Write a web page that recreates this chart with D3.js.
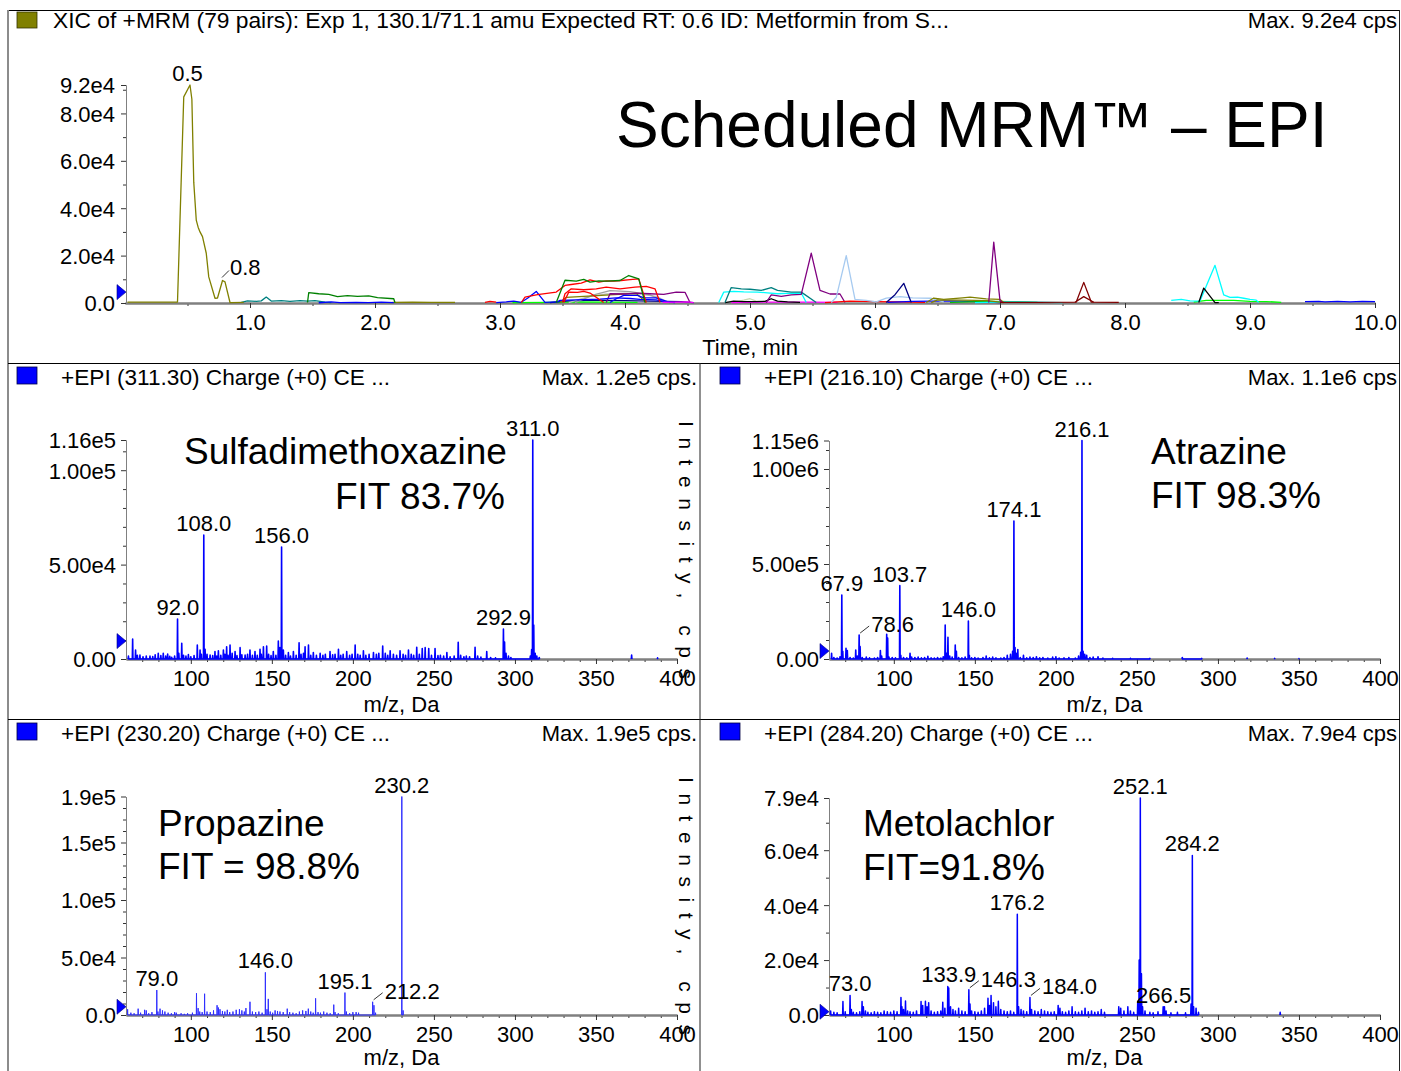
<!DOCTYPE html>
<html><head><meta charset="utf-8">
<script src="https://cdn.jsdelivr.net/npm/d3@7"></script>
<style>
body{margin:0;background:#fff}
svg{display:block}
text{font-family:"Liberation Sans",Arial,sans-serif;fill:#000}
</style>
</head><body>
<svg id="c" width="1401" height="1071"></svg>
<script>
// ---------------- DATA ----------------
// Chromatogram (XIC) traces: [time min, intensity cps]
const metformin = [[0.02,400],[0.42,400],[0.47,87000],[0.52,92000],[0.535,86000],[0.55,51000],[0.57,35000],[0.585,32000],[0.6,30000],[0.62,28000],[0.65,21000],[0.67,11000],[0.72,2000],[0.74,2100],[0.78,9500],[0.80,8900],[0.84,200],[0.95,300]];
const oliveLate = [[2.14,300],[2.3,400],[2.45,300],[2.64,300]];
const teal1 = [[0.93,300],[0.98,900],[1.05,700],[1.09,900],[1.13,2500],[1.17,800],[1.25,1000],[1.32,700],[1.4,1000],[1.46,800],[1.52,1000],[1.6,400],[1.65,200]];
const green1 = [[1.46,200],[1.47,4400],[1.55,3900],[1.63,3600],[1.7,2700],[1.78,3100],[1.86,2800],[1.95,3000],[2.02,2300],[2.15,1800],[2.16,100]];
const blue1 = [[1.55,100],[1.65,500],[1.72,200],[1.85,300],[1.95,200],[2.05,350],[2.15,200]];
const redPre = [[2.88,300],[2.92,700],[2.97,400]];
const blueA = [[2.97,200],[3.05,500],[3.11,800],[3.17,300],[3.22,2000],[3.29,4900],[3.36,300],[3.45,500]];
const redA = [[3.17,200],[3.2,2500],[3.3,3500],[3.45,4600],[3.52,7400],[3.57,7800],[3.65,8400],[3.72,9800],[3.79,8800],[3.85,9300],[3.91,9200],[3.97,9500],[4.04,9900],[4.11,10200],[4.17,200]];
const greenA = [[3.45,200],[3.52,9600],[3.61,9200],[3.67,10000],[3.72,8800],[3.79,9300],[3.85,9200],[3.96,9500],[4.03,11600],[4.11,10200],[4.16,200]];
const redB = [[3.5,200],[3.52,3900],[3.57,6000],[3.67,5600],[3.77,6000],[3.85,6700],[3.96,6000],[4.08,6700],[4.17,7000],[4.24,6000],[4.28,200]];
const redC = [[3.51,200],[3.55,4600],[3.62,4500],[3.67,4900],[3.72,4200],[3.83,200]];
const purpleA = [[3.85,200],[3.88,3900],[4.0,3800],[4.09,4200],[4.2,3900],[4.31,3600],[4.41,4600],[4.48,4500],[4.52,200]];
const grayA = [[3.6,200],[3.75,3400],[3.88,5200],[3.96,5000],[4.04,4800],[4.12,4200],[4.2,3400],[4.33,200]];
const silverA = [[3.55,200],[3.7,2600],[3.85,3800],[4.0,4200],[4.1,3900],[4.25,2800],[4.35,200]];
const oliveA = [[3.48,200],[3.53,2400],[3.67,2800],[3.88,3400],[3.99,3800],[4.09,4000],[4.17,200]];
const blueB = [[3.45,300],[3.48,1100],[3.67,1400],[3.8,1600],[3.93,2200],[4.04,1900],[4.12,1500],[4.25,1300],[4.31,600],[4.4,200]];
const blueC = [[3.88,200],[3.93,1800],[3.99,3200],[4.1,3200],[4.15,2200],[4.25,2200],[4.31,1100],[4.36,200]];
const navyA = [[3.4,200],[3.55,900],[3.75,1200],[4.0,1000],[4.2,800],[4.45,600],[4.55,200]];
const limeA = [[3.1,200],[3.4,300],[3.6,500],[3.9,400],[4.1,300]];
const magentaPre = [[4.3,300],[4.5,500],[4.55,200]];
const cyanA = [[4.75,200],[4.79,4600],[4.87,4900],[4.95,4700],[5.06,4600],[5.14,4300],[5.22,3900],[5.3,4100],[5.41,4200],[5.45,200]];
const tealA = [[4.8,200],[4.85,6500],[4.93,6000],[5.0,5800],[5.09,5300],[5.17,6500],[5.22,5300],[5.33,4600],[5.41,4600],[5.53,200]];
const blackA = [[4.8,200],[4.87,800],[4.95,600],[5.05,600],[5.12,700],[5.17,1800],[5.22,800],[5.3,500],[5.4,300]];
const beigeA = [[4.85,200],[4.95,1200],[5.0,1800],[5.05,800],[5.15,300]];
const purpleC = [[5.13,200],[5.17,3400],[5.25,2800],[5.33,3400],[5.41,3600],[5.49,21000],[5.56,5300],[5.64,3800],[5.72,3800],[5.76,200]];
const lightblueA = [[5.65,200],[5.69,2400],[5.77,20000],[5.84,1500],[5.93,1100],[6.01,500],[6.09,2100],[6.2,2700],[6.3,2200],[6.45,2000],[6.55,500]];
const navyB = [[6.09,200],[6.16,3500],[6.23,8300],[6.29,200]];
const magentaA = [[4.85,200],[5.2,400],[5.5,400],[5.7,300]];
const redD = [[5.6,200],[5.8,800],[6.0,600],[6.2,500],[6.4,300]];
const blueD = [[6.1,300],[6.3,700],[6.6,900],[6.9,500],[7.0,200]];
const oliveB = [[6.41,200],[6.47,2100],[6.55,1500],[6.7,2200],[6.76,2500],[6.89,1700],[7.0,1500],[7.03,200]];
const oliveC = [[6.45,200],[6.5,1300],[6.7,1200],[6.9,1000],[7.03,200]];
const purpleD = [[6.91,200],[6.95,25700],[7.0,1000],[7.02,200]];
const greenB = [[6.6,300],[6.9,700],[7.1,600],[7.3,300]];
const cyanB = [[6.8,200],[7.05,500],[7.3,400],[7.5,200]];
const maroonA = [[7.0,300],[7.3,300],[7.61,400],[7.67,8700],[7.73,400],[7.95,300]];
const maroonB = [[7.6,300],[7.67,2700],[7.75,300]];
const cyanC = [[8.37,1100],[8.45,1500],[8.52,900],[8.6,800],[8.72,15900],[8.79,3400],[8.84,2400],[8.9,2500],[8.95,2000],[9.0,1500],[9.05,1200],[9.07,200]];
const blackB = [[8.59,200],[8.63,6300],[8.72,200],[8.75,200]];
const limeB = [[8.55,400],[8.65,1100],[8.87,1100],[9.0,700],[9.13,600],[9.25,300]];
const blueE = [[9.44,600],[9.55,700],[9.6,500],[9.7,700],[9.8,500],[9.9,700],[10.0,600]];

const chromLabels = [[0.5, 92000, "0.5"], [0.8, 9500, "0.8"]];
const chromTickValues = [0, 20000, 40000, 60000, 80000, 92000];
const chromTickLabels = ["0.0", "2.0e4", "4.0e4", "6.0e4", "8.0e4", "9.2e4"];
const timeTicks = [1,2,3,4,5,6,7,8,9,10];
const markerValues = {chrom: 4600, sulfa: 9500, atrazine: 42000, propazine: 7200, metolachlor: 1200};

// Spectra: [m/z, intensity cps]
const sulfaPeaks = [[61.5,1500],[64.1,10600],[65.9,4800],[67,2000],[68.6,2100],[70.5,1200],[72.5,1500],[74.8,1600],[76.5,1300],[78,2200],[79.9,3000],[81.5,1800],[83,3000],[84.5,1500],[85.7,2600],[87,1400],[88.2,900],[90,1600],[91.8,21200],[92.6,3000],[94.4,8300],[95.5,2000],[97,1500],[98.5,2300],[100,1200],[102,1800],[104,7400],[105.7,4800],[106.5,2500],[108,65600],[108.8,5100],[110,2500],[111.9,2100],[113.5,1800],[114.9,3900],[116,1500],[117,4400],[118.5,2000],[120.1,4800],[121,2500],[122.1,6500],[123,2000],[124.2,7400],[125.5,3000],[127.3,3900],[128.5,1800],[130.4,6000],[131.5,2200],[133.5,2100],[135,2500],[136.5,4800],[138,2000],[139.6,3900],[141,2000],[142.7,5100],[143.5,2500],[144.8,6500],[146.8,6900],[148,2500],[149.5,1800],[150.9,3900],[152.5,2000],[154,9500],[155,6000],[156,59300],[157.1,4800],[158.5,2000],[160.2,3400],[161.5,1500],[163.3,3900],[165,2000],[166.8,8600],[168,2500],[169.5,3000],[170.5,6500],[172.6,7400],[174,2000],[175.6,3400],[177.5,2000],[179.8,3000],[181.5,2000],[183,2500],[185.9,3900],[187.5,2200],[189,2500],[191.1,5100],[192.5,2000],[194,2500],[196.2,3900],[198,2000],[199.5,2500],[201.4,7400],[203,2500],[204.5,2000],[206.5,4400],[208,2000],[210,2500],[212.7,3400],[214.5,2500],[216,3000],[218.4,6900],[220,3000],[221.5,2000],[223,4400],[225,2500],[227,2000],[229.1,4400],[231,2500],[232.5,2000],[234.3,4800],[236,2500],[237.5,2000],[239.4,6200],[241,2500],[242.8,5600],[244.6,6000],[246.8,5600],[248.5,2000],[250.7,5600],[252.5,1800],[254,2000],[256,1500],[258,3400],[260,1200],[262.5,1500],[265,8800],[266.5,2000],[268.5,1200],[270,1500],[272,1200],[275.4,6200],[277,1500],[279,1000],[282.6,3900],[285,800],[288,600],[292.9,15900],[293.6,9000],[294.5,3000],[296,1500],[297.5,800],[309.5,1500],[310.3,5000],[311,116000],[311.6,18000],[312.5,3000],[313.5,1500],[315,800],[372,2100],[388,600]];
const sulfaLabels = [[311.0,116000,"311.0"],[108.0,65600,"108.0"],[156.0,59300,"156.0"],[92.0,21200,"92.0"],[292.9,15900,"292.9"]];

const atrazinePeaks = [[61.6,30000],[63,8000],[65,5000],[66.8,12000],[67.9,337000],[68.5,40000],[70.5,56000],[71.3,44000],[73,8000],[75,5000],[76.5,47000],[77.5,15000],[78.6,126000],[79.2,65000],[80.5,8000],[83,10000],[85,6000],[88,5000],[90,8000],[91.7,44000],[92.5,15000],[95.6,130000],[96.2,110000],[97,10000],[99,8000],[101,6000],[103.7,386000],[104.3,20000],[106,8000],[108,6000],[110,30000],[111,10000],[113,8000],[115,10000],[117,6000],[119,8000],[121,14000],[123,6000],[125,5000],[127,8000],[129,5000],[130.5,12000],[131.7,179000],[132.5,30000],[133.4,114000],[134.5,15000],[136,10000],[137.9,74000],[138.6,40000],[140,8000],[142,6000],[144,10000],[146.0,200000],[146.6,20000],[148,6000],[150,8000],[152,5000],[155,8000],[157,15000],[159,6000],[161,10000],[163,6000],[166,5000],[168,8000],[170,20000],[172,25000],[173.3,40000],[174.1,726000],[174.8,60000],[175.5,30000],[176.5,50000],[178,8000],[180,20000],[182,6000],[184,10000],[186,8000],[188,12000],[190,6000],[192,8000],[195,5000],[198,10000],[200,12000],[202,5000],[205,6000],[208,8000],[212,5000],[214,15000],[215.3,35000],[216.1,1150000],[216.8,40000],[217.8,25000],[219,20000],[221,8000],[223,10000],[226,12000],[229,5000],[235,4000],[246,4000],[258,3000],[278,8000],[290,3000],[318,5000],[335,3000],[350,2000]];
const atrazineLabels = [[216.1,1150000,"216.1"],[174.1,726000,"174.1"],[103.7,386000,"103.7"],[67.9,337000,"67.9"],[146.0,200000,"146.0"],[78.6,126000,"78.6"]];

const propazinePeaks = [[61,5000],[63,2000],[65,1500],[67.5,5500],[69,2000],[71.5,4500],[72.5,4000],[74,1500],[76,2500],[79.0,21700],[79.7,3000],[81,5500],[82.5,4000],[84,3000],[86,2000],[88,1500],[90,2500],[91,2000],[94,1500],[96,1000],[98,1500],[101,2000],[103.5,18900],[104.5,6000],[105.5,3000],[107,2500],[108.5,18500],[110,3000],[112,2500],[114,4000],[116.2,8500],[117,6500],[118,5000],[119.5,3500],[121,3000],[122.5,4500],[124,2500],[126,3000],[128,4500],[130,5000],[131.5,4000],[133,3000],[134,6000],[136.5,11500],[138,3000],[140,2500],[142,3000],[144,2000],[146.0,37100],[147,5000],[147.8,14000],[149,3000],[150.5,2000],[152,4000],[153.5,3500],[155,3000],[157,2500],[159.5,5500],[161,2500],[163,2000],[165,1500],[167,3000],[169,4000],[171,3500],[172.5,5500],[174,3000],[175.5,2000],[177,14500],[178.5,2500],[180,2000],[182,3000],[184,2000],[186,1500],[188.2,9000],[189,2500],[191,1500],[195.1,19500],[196,3000],[198,1500],[200,2500],[202,2500],[203.5,2000],[212.2,11500],[213,8500],[214,2000],[230.2,190000],[231,4000]];
const propazineLabels = [[230.2,190000,"230.2"],[146.0,37100,"146.0"],[79.0,21700,"79.0"],[195.1,19500,"195.1"],[212.2,11500,"212.2"]];

const metolachlorPeaks = [[61,1500],[63,1000],[65,800],[68.6,4900],[70,1200],[73.0,7100],[73.8,2000],[75,1000],[77,800],[79,1200],[80.4,4900],[81.2,3000],[82.5,1500],[84,1000],[86,800],[88,1200],[90,1000],[92,800],[94,1500],[96,1200],[98,1000],[100,1500],[102,1200],[104.4,6400],[105,3000],[106,2000],[107.2,5100],[108.5,1500],[110,1200],[112,1000],[114,1500],[116.8,4900],[117.8,3500],[119.5,5000],[120.5,3000],[121.5,4500],[123,1500],[125,1000],[127,1200],[129,1500],[130.2,4600],[131.5,2500],[133.3,10400],[133.9,9800],[135,3000],[136.5,2000],[138,1500],[140,2500],[142,1500],[144,1200],[146.3,9200],[147,4000],[148,1500],[150,1200],[152,1000],[154,1500],[156,2500],[158.1,6100],[159,3500],[160,7100],[161.5,4500],[163,3000],[164.5,5000],[166,2000],[168,1500],[170,1200],[172,1500],[174,1000],[176.2,36700],[177,3000],[178.5,2000],[180,1500],[182,1200],[184.0,6400],[185,2000],[187,1500],[189,1200],[191,2000],[193,1500],[195,1200],[197,1000],[199,1200],[201.4,3500],[202.5,2500],[204,1200],[206,1000],[208,1500],[210,3000],[212,1200],[214,1000],[216,1500],[218,2500],[220,1200],[222,1500],[224,1000],[226,1200],[228,2000],[230,1000],[238.8,3000],[240,2500],[242,1500],[244.4,3000],[246,1500],[248,1000],[250.5,5000],[251.4,20000],[252.1,79000],[252.8,15000],[253.5,3000],[255,1500],[258,1000],[260,800],[263,1200],[266.2,3000],[267,3000],[268,1500],[271,800],[275,1000],[280,800],[283.4,4000],[284.2,58100],[285,3000],[286.5,2500],[288,1000],[338.4,1000]];
const metolachlorLabels = [[252.1,79000,"252.1"],[284.2,58100,"284.2"],[176.2,36700,"176.2"],[133.9,10400,"133.9"],[146.3,9200,"146.3"],[184.0,6400,"184.0"],[73.0,7100,"73.0"],[266.5,3000,"266.5"]];

const mzDomain = [60, 400];
const mzMajor = [100,150,200,250,300,350,400];
const sulfaTicks = [0,50000,100000,116000], sulfaTickLabels = ["0.00","5.00e4","1.00e5","1.16e5"];
const atrazineTicks = [0,500000,1000000,1150000], atrazineTickLabels = ["0.00","5.00e5","1.00e6","1.15e6"];
const propazineTicks = [0,50000,100000,150000,190000], propazineTickLabels = ["0.0","5.0e4","1.0e5","1.5e5","1.9e5"];
const metolachlorTicks = [0,20000,40000,60000,79000], metolachlorTickLabels = ["0.0","2.0e4","4.0e4","6.0e4","7.9e4"];

// ---------------- DRAW ----------------
const svg = d3.select('#c');
const FONT = 22;

// frame
function hline(x1,x2,y,c,w){svg.append('line').attr('x1',x1).attr('x2',x2).attr('y1',y).attr('y2',y).attr('stroke',c).attr('stroke-width',w);}
function vline(x,y1,y2,c,w){svg.append('line').attr('x1',x).attr('x2',x).attr('y1',y1).attr('y2',y2).attr('stroke',c).attr('stroke-width',w);}
hline(8,1400,10.5,'#000',1);
vline(8,10,1071,'#8c8c8c',2);
vline(1399.5,10,1071,'#222',1);
hline(8,1400,363.5,'#000',1);
hline(8,1400,719.5,'#000',1);
vline(700,363,1071,'#222',1);

function styleAxis(g, domainColor, domainWidth){
  g.select('.domain').attr('stroke',domainColor).attr('stroke-width',domainWidth);
  g.selectAll('.tick line').attr('stroke','#333');
  g.selectAll('.tick text').attr('font-size',FONT).attr('font-family','"Liberation Sans",Arial,sans-serif').attr('fill','#000');
}

function marker(x0, yv){
  svg.append('path').attr('d',`M${x0-9},${yv-7.5}L${x0},${yv}L${x0-9},${yv+7.5}Z`).attr('fill','#0000ff').attr('stroke','#00007a').attr('stroke-width',0.6);
}

function drawLabels(labels, x, y, leaders, L){
  labels.forEach(([pos,val,txt])=>{
    const px=x(pos), py=y(val);
    if(leaders.includes(txt)){
      svg.append('line').attr('x1',px+L.lx0).attr('y1',py+L.ly0).attr('x2',px+L.lx1).attr('y2',py+L.ly1).attr('stroke','#000').attr('stroke-width',0.8);
      svg.append('text').attr('x',px+L.tx).attr('y',py+L.ty).attr('font-size',FONT).text(txt);
    } else {
      svg.append('text').attr('x',px).attr('y',py-4).attr('text-anchor','middle').attr('font-size',FONT).text(txt);
    }
  });
}

// ----- chromatogram -----
(function(){
  const x = d3.scaleLinear().domain([0,10]).range([125,1375]);
  const y = d3.scaleLinear().domain([0,92000]).range([303,85]);
  svg.append('rect').attr('x',17).attr('y',12).attr('width',20).attr('height',16).attr('fill','#808000').attr('stroke','#333300').attr('stroke-width',0.8);
  svg.append('text').attr('x',53).attr('y',28).attr('font-size',FONT).attr('textLength',896).attr('lengthAdjust','spacingAndGlyphs').text('XIC of +MRM (79 pairs): Exp 1, 130.1/71.1 amu Expected RT: 0.6 ID: Metformin from S...');
  svg.append('text').attr('x',1397).attr('y',28).attr('text-anchor','end').attr('font-size',FONT).text('Max. 9.2e4 cps');
  svg.append('text').attr('x',616).attr('y',147).attr('font-size',64).text('Scheduled MRM\u2122 \u2013 EPI');

  const gxm = svg.append('g').attr('transform','translate(0,303)').call(d3.axisBottom(x).tickValues(d3.range(0.5,10,1)).tickSize(3).tickSizeOuter(0).tickFormat(''));
  styleAxis(gxm,'#808080',2);
  const gx = svg.append('g').attr('transform','translate(0,303)').call(d3.axisBottom(x).tickValues(timeTicks).tickSize(5).tickSizeOuter(0).tickFormat(d3.format('.1f')));
  styleAxis(gx,'#808080',2);
  gx.selectAll('.tick text').attr('y',27).attr('dy',0);
  const gym = svg.append('g').attr('transform','translate(126,0)').call(d3.axisLeft(y).tickValues([10000,30000,50000,70000,90000]).tickSize(3).tickSizeOuter(0).tickFormat(''));
  styleAxis(gym,'#808080',1);
  const gy = svg.append('g').attr('transform','translate(126,0)').call(d3.axisLeft(y).tickValues(chromTickValues).tickSize(5).tickSizeOuter(0).tickFormat((d,i)=>chromTickLabels[i]));
  styleAxis(gy,'#808080',1);
  gy.selectAll('.tick text').attr('x',-11).attr('dy','0.36em');
  svg.append('text').attr('x',x(5)).attr('y',355).attr('text-anchor','middle').attr('font-size',FONT).text('Time, min');

  const traces = [
    [oliveLate,'#808000'],[teal1,'#008080'],[green1,'#008000'],[blue1,'#0000ff'],[redPre,'#ff0000'],[limeA,'#00ff00'],[navyA,'#000080'],
    [silverA,'#c0c0c0'],[grayA,'#a0a0a0'],[oliveA,'#808000'],[purpleA,'#800080'],[blueB,'#0000ff'],[blueC,'#0000ff'],[blueA,'#0000ff'],
    [redC,'#ff0000'],[redB,'#ff0000'],[redA,'#ff0000'],[greenA,'#008000'],[magentaPre,'#ff00ff'],
    [beigeA,'#c8d8b0'],[magentaA,'#ff00ff'],[blackA,'#000000'],[cyanA,'#00ffff'],[tealA,'#008080'],[purpleC,'#800080'],
    [redD,'#ff0000'],[blueD,'#0000ff'],[lightblueA,'#a6caf0'],[navyB,'#000080'],[greenB,'#00c000'],[cyanB,'#00ffff'],
    [oliveC,'#808000'],[oliveB,'#808000'],[purpleD,'#800080'],[maroonB,'#800000'],[maroonA,'#800000'],
    [limeB,'#00ff00'],[cyanC,'#00ffff'],[blackB,'#000000'],[blueE,'#0000ff'],[metformin,'#808000']
  ];
  const line = d3.line().x(d=>x(d[0])).y(d=>y(d[1]));
  traces.forEach(([data,color])=>{
    svg.append('path').attr('d',line(data)).attr('fill','none').attr('stroke',color).attr('stroke-width',1.3).attr('stroke-linejoin','round');
  });
  marker(126, y(markerValues.chrom));
  drawLabels(chromLabels, x, y, ["0.8"], {lx0:-3,ly0:-3,lx1:4,ly1:-10,tx:5,ty:-5});
})();

// ----- spectra -----
function drawSpectrum(c){
  const x = d3.scaleLinear().domain(mzDomain).range(c.xRange);
  const y = d3.scaleLinear().domain([0,c.yMax]).range(c.yRange);
  const x0 = c.xRange[0], y0 = c.yRange[0];
  svg.append('rect').attr('x',c.squareX).attr('y',c.top+4).attr('width',20).attr('height',17).attr('fill','#0000ff').attr('stroke','#000044').attr('stroke-width',0.8);
  svg.append('text').attr('x',c.headerX).attr('y',c.top+22).attr('font-size',FONT).attr('textLength',329).attr('lengthAdjust','spacingAndGlyphs').text(c.header);
  svg.append('text').attr('x',c.maxX).attr('y',c.top+22).attr('text-anchor','end').attr('font-size',FONT).text(c.maxText);

  const gxm = svg.append('g').attr('transform',`translate(0,${y0})`).call(d3.axisBottom(x).tickValues(d3.range(70,400,10).filter(v=>v%50)).tickSize(3).tickSizeOuter(0).tickFormat(''));
  styleAxis(gxm,'#808080',2);
  const gx = svg.append('g').attr('transform',`translate(0,${y0})`).call(d3.axisBottom(x).tickValues(mzMajor).tickSize(5).tickSizeOuter(0).tickFormat(d3.format('d')));
  styleAxis(gx,'#808080',2);
  gx.selectAll('.tick text').attr('y',27).attr('dy',0);

  const minor = d3.range(c.minorStep, c.yMax, c.minorStep).filter(v=>!c.ticks.some(t=>Math.abs(t-v)<1));
  const gym = svg.append('g').attr('transform',`translate(${x0},0)`).call(d3.axisLeft(y).tickValues(minor).tickSize(3).tickSizeOuter(0).tickFormat(''));
  styleAxis(gym,'#808080',1);
  const gy = svg.append('g').attr('transform',`translate(${x0},0)`).call(d3.axisLeft(y).tickValues(c.ticks).tickSize(5).tickSizeOuter(0).tickFormat((d,i)=>c.tickLabels[i]));
  styleAxis(gy,'#808080',1);
  gy.selectAll('.tick text').attr('x',-10).attr('dy','0.36em');

  svg.append('text').attr('x',(c.xRange[0]+c.xRange[1])/2).attr('y',Math.min(y0+53,1065)).attr('text-anchor','middle').attr('font-size',FONT).text('m/z, Da');

  // profile
  const pts = [];
  const peaks = c.peaks.slice().sort((a,b)=>a[0]-b[0]);
  peaks.forEach((p,i)=>{
    if(i>0 && p[0]-peaks[i-1][0] > 12) pts.push(null);
    pts.push([p[0]-c.hw,0],[p[0],p[1]],[p[0]+c.hw,0]);
  });
  const line = d3.line().defined(d=>d!==null).x(d=>x(d[0])).y(d=>y(d[1]));
  svg.append('path').attr('d',line(pts)).attr('fill','none').attr('stroke',c.color).attr('stroke-width',c.sw).attr('stroke-linejoin','round');

  marker(x0, y(c.markerVal));
  drawLabels(c.labels, x, y, c.leaders, {lx0:1,ly0:-2,lx1:10,ly1:-9,tx:12,ty:-3});
  c.names.forEach(([t,nx,ny,anchor])=>{
    svg.append('text').attr('x',nx).attr('y',ny).attr('text-anchor',anchor).attr('font-size',37).text(t);
  });
  if(c.intensity){
    svg.append('text').attr('transform',`translate(679,${c.intensity}) rotate(90)`).attr('font-size',21)
      .attr('textLength',258).attr('lengthAdjust','spacing').text('Intensity, cps');
  }
}

drawSpectrum({peaks:sulfaPeaks, labels:sulfaLabels, leaders:[], yMax:116000, ticks:sulfaTicks, tickLabels:sulfaTickLabels, minorStep:10000,
  xRange:[126,677], yRange:[659,440], top:363, squareX:17, headerX:61, maxX:697,
  header:'+EPI (311.30) Charge (+0) CE ...', maxText:'Max. 1.2e5 cps.', markerVal:markerValues.sulfa, hw:0.2, sw:1.6, color:'#0000ff',
  names:[['Sulfadimethoxazine',184,464,'start'],['FIT 83.7%',505,509,'end']], intensity:421});
drawSpectrum({peaks:atrazinePeaks, labels:atrazineLabels, leaders:["78.6"], yMax:1150000, ticks:atrazineTicks, tickLabels:atrazineTickLabels, minorStep:100000,
  xRange:[829,1380], yRange:[659,440.5], top:363, squareX:720, headerX:764, maxX:1397,
  header:'+EPI (216.10) Charge (+0) CE ...', maxText:'Max. 1.1e6 cps', markerVal:markerValues.atrazine, hw:0.2, sw:1.6, color:'#0000ff',
  names:[['Atrazine',1151,464,'start'],['FIT 98.3%',1151,508,'start']], intensity:0});
drawSpectrum({peaks:propazinePeaks, labels:propazineLabels, leaders:["212.2"], yMax:190000, ticks:propazineTicks, tickLabels:propazineTickLabels, minorStep:10000,
  xRange:[126,677], yRange:[1015,796.5], top:719, squareX:17, headerX:61, maxX:697,
  header:'+EPI (230.20) Charge (+0) CE ...', maxText:'Max. 1.9e5 cps.', markerVal:markerValues.propazine, hw:0.12, sw:1, color:'#2f2fff',
  names:[['Propazine',158,836,'start'],['FIT = 98.8%',158,879,'start']], intensity:777});
drawSpectrum({peaks:metolachlorPeaks, labels:metolachlorLabels, leaders:["146.3","184.0"], yMax:79000, ticks:metolachlorTicks, tickLabels:metolachlorTickLabels, minorStep:10000,
  xRange:[829,1380], yRange:[1015,798], top:719, squareX:720, headerX:764, maxX:1397,
  header:'+EPI (284.20) Charge (+0) CE ...', maxText:'Max. 7.9e4 cps', markerVal:markerValues.metolachlor, hw:0.2, sw:1.5, color:'#0000ff',
  names:[['Metolachlor',863,836,'start'],['FIT=91.8%',863,880,'start']], intensity:0});
</script>
</body></html>
